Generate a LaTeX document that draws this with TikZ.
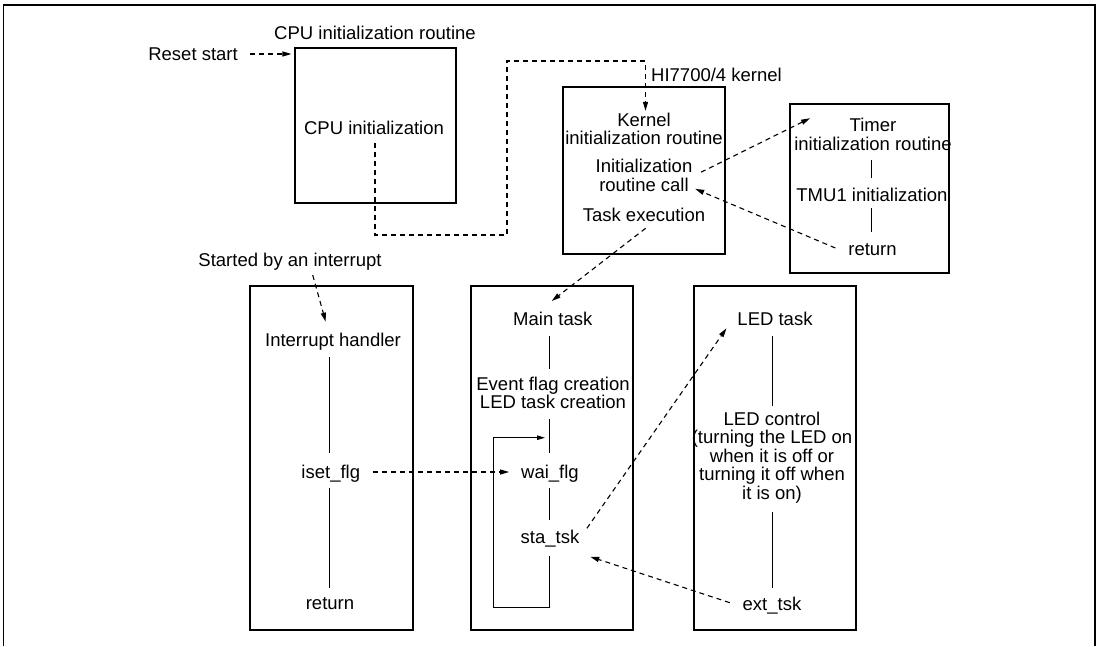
\documentclass[tikz,border=0pt]{standalone}
\usepackage{fontspec}
\setmainfont{Liberation Sans}
\usetikzlibrary{arrows.meta}
\begin{document}
\begin{tikzpicture}[x=1pt,y=-1pt,
  txt/.style={font=\fontsize{18.5pt}{18.5pt}\selectfont, inner sep=0pt, anchor=base},
  mtxt/.style={txt, align=center},
  box/.style={draw, line width=1.2pt, inner sep=0pt},
  heavybox/.style={box, line width=2.6pt},
  frameline/.style={line width=1.9pt},
  flow/.style={line width=1pt},
  call/.style={line width=1.1pt, dash pattern=on 5pt off 4pt,
    -{Triangle[length=9pt,width=5pt]}},
  loopflow/.style={flow, -{Triangle[length=8pt,width=4.5pt]}}
]
\useasboundingbox (0,0) rectangle (1101,646);
\fill[white] (0,0) rectangle (1101,646);

% outer frame, open at the bottom
\draw[frameline] (3.5,646) -- (3.5,5) -- (1095,5) -- (1095,646);

% routine boxes
\node[box, minimum width=161pt, minimum height=155pt] (cpubox) at (375.5,125.5) {};
\node[box, minimum width=162pt, minimum height=167pt] (kbox) at (644,170.5) {};
\node[heavybox, minimum width=159pt, minimum height=169pt] (tbox) at (869.5,188.5) {};
\node[heavybox, minimum width=163pt, minimum height=344pt] (ibox) at (331.5,458) {};
\node[heavybox, minimum width=162pt, minimum height=344pt] (mbox) at (552,458) {};
\node[heavybox, minimum width=162pt, minimum height=344pt] (lbox) at (775,458) {};

% texts (multi-line nodes sit on the baseline of their last line)
\node[txt, anchor=base east] (reset) at (238,60) {Reset start};
\node[txt] (cputtl) at (375,39.3) {CPU initialization routine};
\node[txt] (cpuinit) at (374,134) {CPU initialization};
\node[txt, anchor=base west] (klabel) at (651,81) {HI7700/4 kernel};
\node[mtxt] (ktitle) at (644,144.5) {Kernel\\initialization routine};
\node[mtxt] (kcall) at (644,191.2) {Initialization\\routine call};
\node[txt] (kexec) at (644,221.7) {Task execution};
\node[mtxt] (ttitle) at (873,150.2) {Timer\\initialization routine};
\node[txt] (tmu) at (872,201.7) {TMU1 initialization};
\node[txt] (tret) at (872.5,255) {return};
\node[txt] (started) at (290,266) {Started by an interrupt};
\node[txt] (ihand) at (333,346.5) {Interrupt handler};
\node[txt] (iset) at (330.8,478.3) {iset\_flg};
\node[txt] (iret) at (330,609.3) {return};
\node[txt] (mtask) at (552.8,325) {Main task};
\node[mtxt] (evc) at (553,408.5) {Event flag creation\\LED task creation};
\node[txt] (wai) at (550,478.3) {wai\_flg};
\node[txt] (sta) at (550,543.3) {sta\_tsk};
\node[txt] (ledt) at (775,325) {LED task};
\node[mtxt] (ledc) at (772,499) {LED control\\(turning the LED on\\when it is off or\\turning it off when\\it is on)};
\node[txt] (ext) at (772,610) {ext\_tsk};

% dashed control transfers
\draw[call] ([shift={(12,-6)}]reset.base east) -- ([shift={(-3,-6)}]reset.base east -| cpubox.west);
\coordinate (bendA) at (507,235);
\coordinate (bendB) at (507,61);
\draw[call] ([shift={(1,9)}]cpuinit.base) |- (bendA) -- (bendB) -| ([shift={(1.5,-1.5)}]ktitle.north);
\draw[call] ([shift={(8.5,-19)}]kcall.base east) -- ([shift={(16,-32)}]ttitle.base west);
\draw[call] ([shift={(-12.8,-7)}]tret.base west) -- ([shift={(2.7,-2.7)}]kcall.south east);
\draw[call] ([shift={(1.6,6.6)}]kexec.base) -- ([shift={(-1.1,-24)}]mtask.base);
\draw[call] ([shift={(22.7,9)}]started.base) -- ([shift={(-7.3,-24.8)}]ihand.base);
\draw[call] ([shift={(12.6,-6.3)}]iset.base east) -- ([shift={(-11.9,-6.3)}]wai.base west);
\draw[call] ([shift={(7.4,-15)}]sta.base east) -- ([shift={(-10.8,3.3)}]ledt.base west);
\draw[call] ([shift={(-12.7,-7.3)}]ext.base west) -- ([shift={(10.7,13.4)}]sta.base east);

% solid flow lines inside the routines
\draw[flow] ([shift={(-1.5,9.8)}]ttitle.south) -- ([shift={(-0.5,-23.7)}]tmu.base);
\draw[flow] ([shift={(-0.5,6.3)}]tmu.base) -- ([shift={(-1,-23)}]tret.base);
\draw[flow] ([shift={(-3.7,10.5)}]ihand.base) -- ([shift={(-1.5,-25)}]iset.base);
\draw[flow] ([shift={(-1.5,9.7)}]iset.base) -- ([shift={(-0.7,-21.3)}]iret.base);
\draw[flow] ([shift={(-3.5,11)}]mtask.base) -- ([shift={(-3.7,-39.5)}]evc.base);
\draw[flow] ([shift={(-3.7,10)}]evc.south) -- ([shift={(-0.7,-25.6)}]wai.base);
\draw[flow] ([shift={(-0.7,9.7)}]wai.base) -- ([shift={(-0.7,-23.3)}]sta.base);
\coordinate (loopcorner) at (493.3,607.7);
\coordinate (loopin) at (545,437.7);
\draw[loopflow] ([shift={(-0.7,12.7)}]sta.base) |- (loopcorner) |- (loopin);
\draw[flow] ([shift={(-3,11)}]ledt.base) -- ([shift={(0,-93.3)}]ledc.base);
\draw[flow] ([shift={(0,8.5)}]ledc.south) -- ([shift={(0,-22.3)}]ext.base);
\end{tikzpicture}
\end{document}
